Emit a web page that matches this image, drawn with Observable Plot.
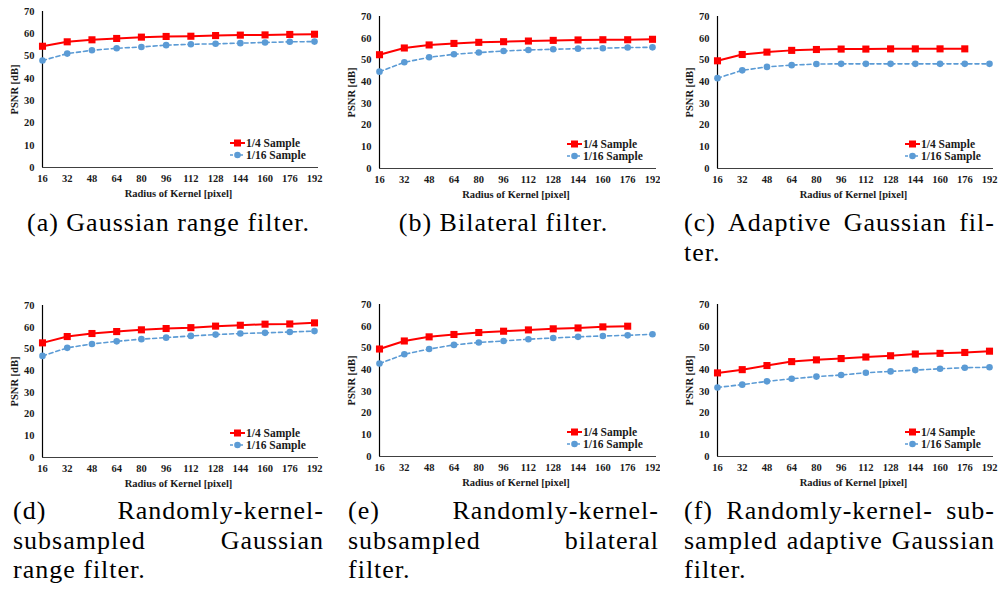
<!DOCTYPE html>
<html><head><meta charset="utf-8">
<script src="https://cdn.jsdelivr.net/npm/d3@7"></script>
<script src="https://cdn.jsdelivr.net/npm/@observablehq/plot@0.6"></script>
<style>
html,body{margin:0;padding:0;background:#fff;}
#root{position:relative;width:1002px;height:589px;overflow:hidden;background:#fff;}
.panel{position:absolute;}
.legend{position:absolute;}
.cap{position:absolute;font-family:"Liberation Serif",serif;font-size:26px;color:#000;letter-spacing:1px;}
.cap .ln{display:flex;justify-content:space-between;white-space:nowrap;}
.cap .ln.left{justify-content:flex-start;}
.cap .ln.center{justify-content:center;}
</style></head><body><div id="root"></div>
<script>
// ---- data ----
const radius = [16, 32, 48, 64, 80, 96, 112, 128, 144, 160, 176, 192];
const yTicks = [0, 10, 20, 30, 40, 50, 60, 70];
const seriesNames = ["1/4 Sample", "1/16 Sample"];

const gaussRangeQuarter = [54.4, 56.4, 57.3, 57.9, 58.5, 58.8, 58.9, 59.2, 59.4, 59.5, 59.7, 59.8];
const gaussRangeSixteenth = [48.0, 51.1, 52.6, 53.5, 54.1, 54.9, 55.3, 55.5, 55.8, 56.1, 56.4, 56.5];
const bilateralQuarter = [52.4, 55.5, 56.9, 57.6, 58.1, 58.4, 58.7, 59.0, 59.2, 59.3, 59.3, 59.5];
const bilateralSixteenth = [44.6, 48.9, 51.2, 52.6, 53.4, 54.1, 54.6, 54.9, 55.2, 55.4, 55.7, 55.8];
const adaptiveQuarter = [49.6, 52.5, 53.6, 54.4, 54.8, 55.0, 55.0, 55.1, 55.1, 55.1, 55.1, null];
const adaptiveSixteenth = [41.6, 45.2, 46.8, 47.6, 48.1, 48.2, 48.2, 48.2, 48.2, 48.2, 48.2, 48.2];
const rkGaussQuarter = [52.8, 55.7, 57.1, 58.0, 58.8, 59.4, 59.8, 60.5, 60.9, 61.4, 61.5, 62.0];
const rkGaussSixteenth = [46.8, 50.5, 52.3, 53.5, 54.5, 55.2, 56.0, 56.6, 57.1, 57.4, 57.8, 58.2];
const rkBilateralQuarter = [49.5, 53.2, 55.1, 56.2, 57.1, 57.7, 58.3, 58.8, 59.2, 59.7, 60.0, null];
const rkBilateralSixteenth = [42.8, 47.1, 49.5, 51.4, 52.5, 53.2, 54.0, 54.6, 55.1, 55.5, 55.8, 56.3];
const rkAdaptiveQuarter = [38.5, 40.0, 41.9, 43.7, 44.5, 45.1, 45.8, 46.4, 47.2, 47.5, 47.9, 48.5];
const rkAdaptiveSixteenth = [31.8, 33.1, 34.6, 35.8, 36.8, 37.5, 38.6, 39.2, 39.8, 40.4, 40.9, 41.1];

const captions = [
  [["(a) Gaussian range filter.", "center"]],
  [["(b) Bilateral filter.", "center"]],
  [["(c) Adaptive Gaussian fil-", "justify"], ["ter.", "left"]],
  [["(d) Randomly-kernel-", "justify"], ["subsampled Gaussian", "justify"], ["range filter.", "left"]],
  [["(e) Randomly-kernel-", "justify"], ["subsampled bilateral", "justify"], ["filter.", "left"]],
  [["(f) Randomly-kernel- sub-", "justify"], ["sampled adaptive Gaussian", "justify"], ["filter.", "left"]]
];

// ---- layout (pixels) ----
const SERIF = "'Liberation Serif', serif";
const RED = "#ff0000", BLUE = "#5b9bd5";
const panels = [
  {q: gaussRangeQuarter, s: gaussRangeSixteenth, left: 0, top: 0, mL: 42, mR: 16, mT: 11, mB: 33},
  {q: bilateralQuarter, s: bilateralSixteenth, left: 330, top: 0, mL: 49, mR: 8, mT: 16, mB: 32},
  {q: adaptiveQuarter, s: adaptiveSixteenth, left: 670, top: 0, mL: 47, mR: 11, mT: 16, mB: 32},
  {q: rkGaussQuarter, s: rkGaussSixteenth, left: 0, top: 290, mL: 42, mR: 16, mT: 15, mB: 33},
  {q: rkBilateralQuarter, s: rkBilateralSixteenth, left: 330, top: 290, mL: 49, mR: 8, mT: 14, mB: 34},
  {q: rkAdaptiveQuarter, s: rkAdaptiveSixteenth, left: 670, top: 290, mL: 47, mR: 11, mT: 14, mB: 34}
];
const W = 330, H = 200;
const capCols = [13, 348, 684], capWidth = 311, capTops = [208, 496], capLine = 29.5;

const root = document.getElementById("root");

function rowsOf(vals) {
  const out = [];
  radius.forEach((r, i) => { if (vals[i] != null) out.push({r, v: vals[i]}); });
  return out;
}

panels.forEach((p, k) => {
  const qRows = rowsOf(p.q), sRows = rowsOf(p.s);
  const chart = Plot.plot({
    width: W, height: H,
    marginLeft: p.mL, marginRight: p.mR, marginTop: p.mT, marginBottom: p.mB,
    x: {domain: [radius[0], radius[radius.length - 1]]},
    y: {domain: [yTicks[0], yTicks[yTicks.length - 1]]},
    style: {fontFamily: SERIF, fontSize: "10.5px", fontWeight: "bold", color: "#1a1a1a", background: "transparent"},
    marks: [
      Plot.ruleY([yTicks[0]], {stroke: "#404040", strokeWidth: 1.2, insetRight: -4}),
      Plot.ruleX([radius[0]], {stroke: "#000", strokeWidth: 1.2}),
      Plot.axisX({ticks: radius, tickSize: 0, tickPadding: 7, tickFormat: d => String(d),
        label: "Radius of Kernel [pixel]", labelAnchor: "center", labelOffset: 29, labelArrow: "none"}),
      Plot.axisY({ticks: yTicks, tickSize: 0, tickPadding: 8,
        label: "PSNR [dB]", labelAnchor: "center", labelOffset: 32, labelArrow: "none"}),
      Plot.line(sRows, {x: "r", y: "v", stroke: BLUE, strokeWidth: 1.6, strokeDasharray: "4,3"}),
      Plot.dot(sRows, {x: "r", y: "v", fill: BLUE, stroke: "none", r: 3.3}),
      Plot.line(qRows, {x: "r", y: "v", stroke: RED, strokeWidth: 2}),
      Plot.dot(qRows, {x: "r", y: "v", symbol: "square", fill: RED, stroke: "none", r: 4})
    ]
  });
  const div = document.createElement("div");
  div.className = "panel";
  div.style.left = p.left + "px";
  div.style.top = p.top + "px";
  div.appendChild(chart);
  root.appendChild(div);

  // legend
  const axisX = p.left + p.mL, y0 = p.top + H - p.mB;
  const ns = "http://www.w3.org/2000/svg";
  const lg = document.createElementNS(ns, "svg");
  lg.setAttribute("width", 90); lg.setAttribute("height", 30);
  lg.setAttribute("class", "legend");
  lg.style.left = (axisX + 188) + "px";
  lg.style.top = (y0 - 30) + "px";
  const items = [
    {name: seriesNames[0], color: RED, dash: null, sym: "square", cy: 6},
    {name: seriesNames[1], color: BLUE, dash: "4,3", sym: "circle", cy: 18}
  ];
  items.forEach(it => {
    const ln = document.createElementNS(ns, "line");
    ln.setAttribute("x1", 0); ln.setAttribute("x2", 15);
    ln.setAttribute("y1", it.cy); ln.setAttribute("y2", it.cy);
    ln.setAttribute("stroke", it.color);
    ln.setAttribute("stroke-width", it.dash ? 1.6 : 2);
    if (it.dash) ln.setAttribute("stroke-dasharray", "3,2");
    lg.appendChild(ln);
    let m;
    if (it.sym === "square") {
      m = document.createElementNS(ns, "rect");
      m.setAttribute("x", 4); m.setAttribute("y", it.cy - 3.5);
      m.setAttribute("width", 7); m.setAttribute("height", 7);
    } else {
      m = document.createElementNS(ns, "circle");
      m.setAttribute("cx", 7.5); m.setAttribute("cy", it.cy); m.setAttribute("r", 3.3);
    }
    m.setAttribute("fill", it.color);
    lg.appendChild(m);
    const t = document.createElementNS(ns, "text");
    t.setAttribute("x", 16); t.setAttribute("y", it.cy + 4);
    t.setAttribute("font-family", SERIF);
    t.setAttribute("font-weight", "bold");
    t.setAttribute("font-size", "11.5px");
    t.setAttribute("fill", "#1a1a1a");
    t.textContent = it.name;
    lg.appendChild(t);
  });
  root.appendChild(lg);

  // caption
  const cap = document.createElement("div");
  cap.className = "cap";
  cap.style.left = capCols[k % 3] + "px";
  cap.style.top = capTops[Math.floor(k / 3)] + "px";
  cap.style.width = capWidth + "px";
  captions[k].forEach(([text, align]) => {
    const ln = document.createElement("div");
    ln.className = "ln" + (align === "justify" ? "" : " " + align);
    ln.style.height = capLine + "px";
    ln.style.lineHeight = capLine + "px";
    if (align === "justify") {
      text.split(" ").forEach(w => {
        const s = document.createElement("span");
        s.textContent = w;
        ln.appendChild(s);
      });
    } else {
      const s = document.createElement("span");
      s.textContent = text;
      ln.appendChild(s);
    }
    cap.appendChild(ln);
  });
  root.appendChild(cap);
});
</script>
</body></html>
